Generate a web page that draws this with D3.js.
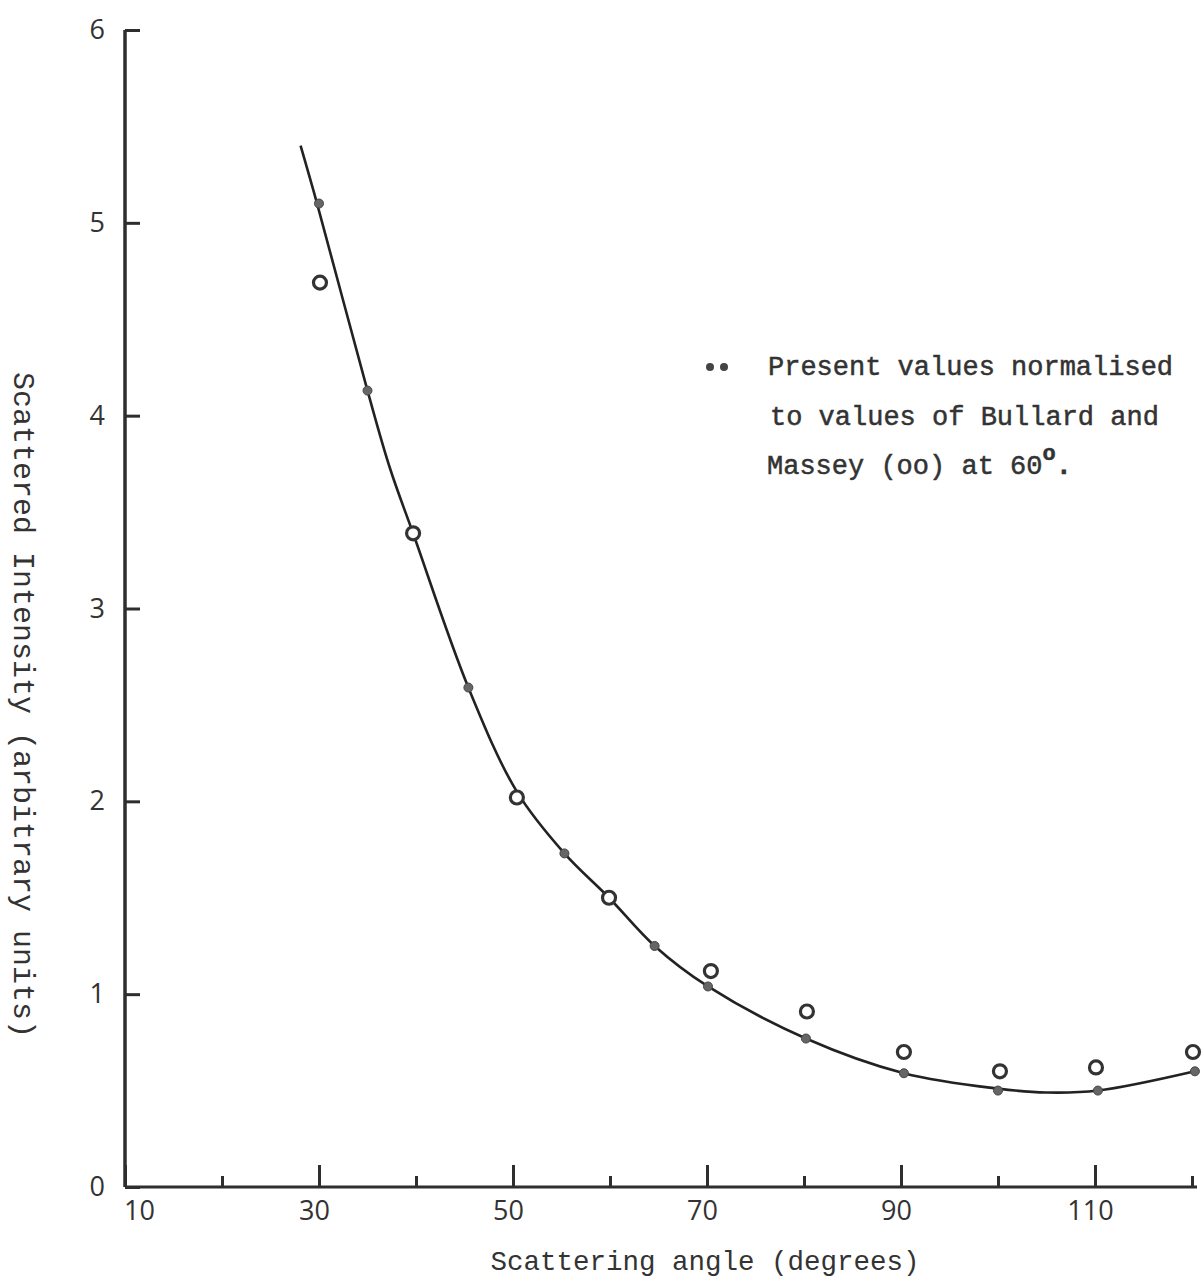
<!DOCTYPE html>
<html>
<head>
<meta charset="utf-8">
<script src="https://cdn.jsdelivr.net/npm/d3@7"></script>
<style>
  body { margin: 0; background: #fff; }
</style>
</head>
<body>
<svg id="chart" width="1203" height="1280"></svg>
<script>
// Present values (filled dots)
const presentAngles = [30, 35, 45.4, 55.3, 64.6, 70.1, 80.2, 90.3, 100, 110.3, 120.3];
const presentValues = [5.10, 4.13, 2.59, 1.73, 1.25, 1.04, 0.77, 0.59, 0.50, 0.50, 0.60];

// Bullard and Massey (open circles)
const bmAngles = [30.1, 39.7, 50.4, 59.9, 70.4, 80.3, 90.3, 100.2, 110.1, 120.1];
const bmValues = [4.69, 3.39, 2.02, 1.50, 1.12, 0.91, 0.70, 0.60, 0.62, 0.70];

// Hand drawn smooth curve
const curveAngles = [28.1, 29.8, 35, 37.3, 39.7, 45.4, 50.4, 55.3, 59.9, 64.6, 70.1, 80.2, 90.3, 100, 105, 110.3, 120.3];
const curveValues = [5.40, 5.10, 4.13, 3.73, 3.39, 2.59, 2.05, 1.73, 1.50, 1.25, 1.04, 0.77, 0.59, 0.51, 0.49, 0.50, 0.60];

// Ticks
const majorTicks = [10, 30, 50, 70, 90, 110];
const minorTicks = [20, 40, 60, 80, 100, 120];
const yTicks = [0, 1, 2, 3, 4, 5, 6];

const legendLines = [
    'Present values normalised',
    'to values of Bullard and',
    'Massey (oo) at 60'
];

const svg = d3.select('#chart');
const ink = '#2e2e2e';
const mono = '"Liberation Mono", "DejaVu Sans Mono", monospace';
const sans = '"Open Sans", "DejaVu Sans", sans-serif';

// Scales
const xScale = d3.scaleLinear().domain([10, 120]).range([125, 1192]);
const yScale = d3.scaleLinear().domain([0, 6]).range([1187, 30]);

// Axis lines
svg.append('line')
    .attr('x1', xScale(10)).attr('x2', xScale(10))
    .attr('y1', yScale(0)).attr('y2', yScale(6))
    .attr('stroke', ink).attr('stroke-width', 3.5);
svg.append('line')
    .attr('x1', xScale(10)).attr('x2', xScale(120) + 5)
    .attr('y1', yScale(0)).attr('y2', yScale(0))
    .attr('stroke', ink).attr('stroke-width', 3);

// Y axis (ticks point inwards)
const yAxis = svg.append('g')
    .attr('transform', `translate(${xScale(10)},0)`)
    .call(d3.axisLeft(yScale).tickValues(yTicks).tickFormat(d3.format('d'))
        .tickSizeInner(-15).tickSizeOuter(0).tickPadding(20));

// X axis, major ticks with labels
const xAxis = svg.append('g')
    .attr('transform', `translate(0,${yScale(0)})`)
    .call(d3.axisBottom(xScale).tickValues(majorTicks).tickFormat(d3.format('d'))
        .tickSizeInner(-22).tickSizeOuter(0).tickPadding(14));

// X axis, minor ticks
const xMinor = svg.append('g')
    .attr('transform', `translate(0,${yScale(0)})`)
    .call(d3.axisBottom(xScale).tickValues(minorTicks).tickSizeInner(-11).tickSizeOuter(0).tickFormat(''));

[yAxis, xAxis, xMinor].forEach(g => {
    g.select('.domain').remove();
    g.selectAll('.tick line').attr('stroke', ink).attr('stroke-width', 3);
    g.selectAll('.tick text')
        .attr('fill', '#333')
        .style('font-family', sans)
        .style('font-size', '27px');
});

// the "10" label sits a little right of its tick, the others a little left
xAxis.selectAll('.tick text').attr('dx', d => d === 10 ? 14 : -5);

// Axis titles
svg.append('text')
    .attr('x', 705).attr('y', 1262)
    .attr('text-anchor', 'middle')
    .attr('dominant-baseline', 'central')
    .attr('fill', '#333')
    .style('font-family', mono)
    .style('font-size', '27.5px')
    .text('Scattering angle (degrees)');

svg.append('text')
    .attr('transform', 'translate(22,705) rotate(90)')
    .attr('text-anchor', 'middle')
    .attr('dominant-baseline', 'central')
    .attr('fill', '#333')
    .style('font-family', mono)
    .style('font-size', '30px')
    .text('Scattered Intensity (arbitrary units)');

// Curve
const curveData = curveAngles.map((a, i) => ({ a: a, v: curveValues[i] }));
const line = d3.line()
    .x(d => xScale(d.a))
    .y(d => yScale(d.v))
    .curve(d3.curveCatmullRom.alpha(0.5));

svg.append('path')
    .datum(curveData)
    .attr('fill', 'none')
    .attr('stroke', '#222')
    .attr('stroke-width', 2.6)
    .attr('d', line);

// Present values
svg.append('g').selectAll('circle')
    .data(presentAngles.map((a, i) => ({ a: a, v: presentValues[i] })))
    .join('circle')
    .attr('cx', d => xScale(d.a))
    .attr('cy', d => yScale(d.v))
    .attr('r', 4.5)
    .attr('fill', '#666')
    .attr('stroke', '#444')
    .attr('stroke-width', 1);

// Bullard and Massey
svg.append('g').selectAll('circle')
    .data(bmAngles.map((a, i) => ({ a: a, v: bmValues[i] })))
    .join('circle')
    .attr('cx', d => xScale(d.a))
    .attr('cy', d => yScale(d.v))
    .attr('r', 6.5)
    .attr('fill', '#fff')
    .attr('stroke', '#333')
    .attr('stroke-width', 3.2);

// Legend
const legend = svg.append('g');
legend.selectAll('circle')
    .data([710, 724])
    .join('circle')
    .attr('cx', d => d)
    .attr('cy', 367)
    .attr('r', 4)
    .attr('fill', '#444');

const legendText = legend.selectAll('text')
    .data(legendLines)
    .join('text')
    .attr('x', (d, i) => [768, 770, 767][i])
    .attr('y', (d, i) => 375 + i * 49.5)
    .attr('fill', '#333')
    .attr('stroke', '#333')
    .attr('stroke-width', 0.5)
    .style('font-family', mono)
    .style('font-size', '27px')
    .text(d => d);

const last = legendText.filter((d, i) => i === 2);
last.append('tspan')
    .attr('dy', -14)
    .attr('font-weight', 'bold')
    .style('font-size', '22px')
    .text('o');
last.append('tspan')
    .attr('dy', 14)
    .attr('font-weight', 'bold')
    .text('.');
</script>
</body>
</html>
